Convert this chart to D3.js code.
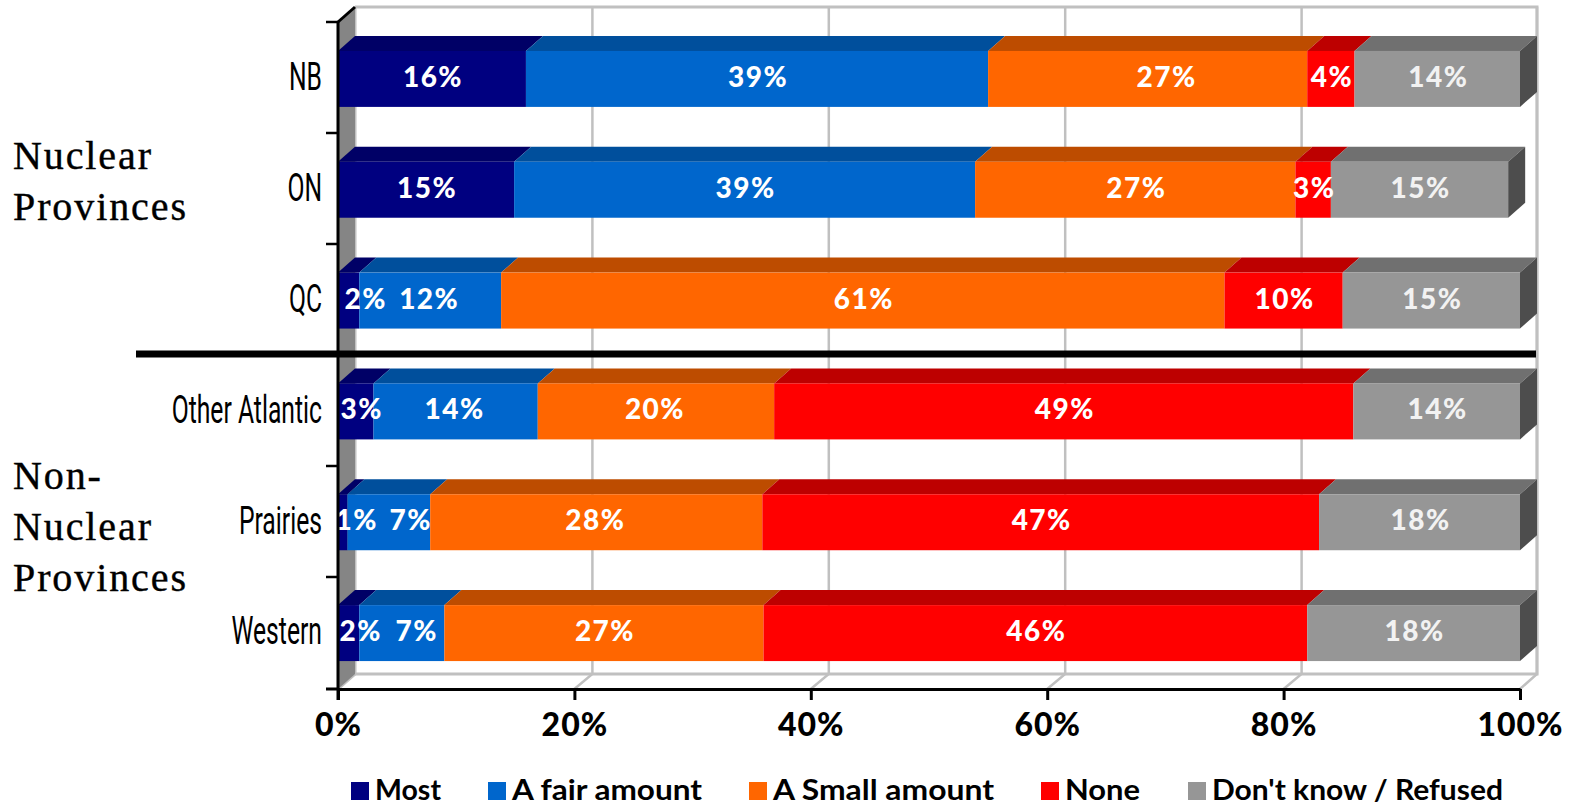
<!DOCTYPE html>
<html>
<head>
<meta charset="utf-8">
<script src="https://cdn.jsdelivr.net/npm/d3@7"></script>
<style>
  body { margin: 0; background: #fff; }
  svg { display: block; }
</style>
</head>
<body>
<div id="chart"></div>
<script>
var categories = ["NB", "ON", "QC", "Other Atlantic", "Prairies", "Western"];
var seriesNames = ["Most", "A fair amount", "A Small amount", "None", "Don't know / Refused"];
// printed labels are these rounded
var most = [15.9, 14.9, 1.8, 3, 0.8, 1.8];
var fairAmount = [39.1, 39, 12, 13.9, 7, 7.2];
var smallAmount = [27, 27.1, 61.2, 20, 28.1, 27];
var none = [4, 3, 10, 49, 47.1, 46];
var dontKnow = [14, 15, 15, 14.1, 17.5, 18];
var xTicks = [0, 20, 40, 60, 80, 100];

var seriesValues = [most, fairAmount, smallAmount, none, dontKnow];
var frontColors = ["#000080", "#0066cc", "#ff6600", "#ff0000", "#969696"];
var topColors = ["#000066", "#004f9c", "#bd4c00", "#bd0000", "#707070"];
var sideColor = "#4d4d4d";
var gridColor = "#c0c0c0";

var width = 1570, height = 803;
var dx = 17, dy = 15; // depth of the fake 3d

var x = d3.scaleLinear().domain([0, 100]).range([338, 1520]);
var y = d3.scaleBand().domain(categories).range([23.5, 688.5]).paddingInner(0.495).paddingOuter(0.2475);
var top0 = 22, bottom0 = 689;

// hand placed labels in the original, these sit off centre of their bars
var labelNudge = {"QC|0": 16, "Other Atlantic|0": 5, "Prairies|0": 13, "Western|0": 11,
                  "Prairies|1": 21, "Western|1": 14, "NB|2": 18, "QC|1": -2,
                  "Other Atlantic|1": -2, "Other Atlantic|2": -2, "Prairies|2": -2};

var svg = d3.select("#chart").append("svg").attr("width", width).attr("height", height);

function poly(g, pts, fill) {
  return g.append("polygon")
    .attr("points", pts.map(function(p) { return p.join(","); }).join(" "))
    .attr("fill", fill);
}

// back wall and floor
var wall = svg.append("g");
wall.append("path")
  .attr("d", "M" + (x(0) + dx) + "," + (top0 - dy) + "H" + (x(100) + dx) + "V" + (bottom0 - dy) + "H" + (x(0) + dx))
  .attr("fill", "none").attr("stroke", gridColor).attr("stroke-width", 3);

xTicks.forEach(function(t) {
  // inner gridlines sit a pixel further right in the original
  var gx = x(t) + dx + (t > 0 && t < 100 ? 1 : 0);
  wall.append("path")
    .attr("d", "M" + gx + "," + (top0 - dy) + "V" + (bottom0 - dy) + "L" + x(t) + "," + bottom0)
    .attr("fill", "none").attr("stroke", gridColor).attr("stroke-width", t == 0 ? 3 : 2.5);
});

poly(wall, [[x(0), top0], [x(0) + dx, top0 - dy], [x(0) + dx, bottom0 - dy], [x(0), bottom0]], "#858585");

// bars
var rows = svg.append("g");
categories.forEach(function(cat, r) {
  var yTop = y(cat), h = y.bandwidth(), cum = 0;
  var row = rows.append("g");
  seriesValues.forEach(function(vals, s) {
    // Prairies adds up to a bit over 100, the plot stops at 100
    var end = Math.min(cum + vals[r], 100);
    var x0 = x(cum), x1 = x(end);
    poly(row, [[x0, yTop], [x0 + dx, yTop - dy], [x1 + dx, yTop - dy], [x1, yTop]], topColors[s]);
    row.append("rect")
      .attr("x", x0).attr("y", yTop)
      .attr("width", x1 - x0).attr("height", h)
      .attr("fill", frontColors[s]);
    cum = end;
  });
  var xEnd = x(cum);
  poly(row, [[xEnd, yTop], [xEnd + dx, yTop - dy], [xEnd + dx, yTop + h - dy], [xEnd, yTop + h]], sideColor);

  // value labels go on top of all segments in the row
  cum = 0;
  seriesValues.forEach(function(vals, s) {
    var end = Math.min(cum + vals[r], 100);
    var nudge = labelNudge[cat + "|" + s] || 0;
    row.append("text")
      .attr("x", x((cum + end) / 2) + 1 + nudge)
      .attr("y", yTop + h / 2 + 8)
      .attr("text-anchor", "middle")
      .attr("font-family", "Lato")
      .attr("font-weight", 900)
      .attr("font-size", 28)
      .attr("letter-spacing", 1.5)
      .attr("fill", s == 4 ? "#f2f2f2" : "#fff")
      .text(Math.round(vals[r]) + "%");
    cum = end;
  });
});

// axes
var xAxis = svg.append("g")
  .attr("transform", "translate(0," + bottom0 + ")")
  .call(d3.axisBottom(x).tickValues(xTicks).tickSize(11).tickSizeOuter(0).tickFormat(function(d) { return d + "%"; }));
xAxis.select(".domain").attr("stroke", "#000").attr("stroke-width", 3);
xAxis.selectAll(".tick line").attr("stroke", "#000").attr("stroke-width", 3);
xAxis.selectAll(".tick text")
  .attr("y", 47).attr("dy", 0)
  .attr("fill", "#000")
  .attr("font-family", "Lato").attr("font-weight", 900).attr("font-size", 32)
  .attr("letter-spacing", 1);

var squeeze = 0.65;
var yAxis = svg.append("g")
  .attr("transform", "translate(" + x(0) + ",0)")
  .call(d3.axisLeft(y).tickSize(0).tickSizeOuter(0));
yAxis.select(".domain").remove();
yAxis.selectAll(".tick text")
  .attr("x", -16 / squeeze).attr("dy", "0.3em")
  .attr("transform", "scale(" + squeeze + ",1)")
  .attr("fill", "#000")
  .attr("font-family", "Roboto").attr("font-size", 38);

svg.append("line")
  .attr("x1", x(0)).attr("x2", x(0)).attr("y1", top0).attr("y2", bottom0 + 11)
  .attr("stroke", "#000").attr("stroke-width", 3);
svg.append("line")
  .attr("x1", x(0)).attr("y1", top0).attr("x2", x(0) + dx).attr("y2", top0 - dy)
  .attr("stroke", "#000").attr("stroke-width", 3);
svg.append("line")
  .attr("x1", x(0) - 12).attr("x2", x(0)).attr("y1", bottom0).attr("y2", bottom0)
  .attr("stroke", "#000").attr("stroke-width", 3);
d3.range(categories.length).forEach(function(i) {
  svg.append("line")
    .attr("x1", x(0) - 12).attr("x2", x(0))
    .attr("y1", top0 + i * 111).attr("y2", top0 + i * 111)
    .attr("stroke", "#000").attr("stroke-width", 2.5);
});

// divider between the two groups
svg.append("rect")
  .attr("x", 136).attr("y", 350.5).attr("width", 1400).attr("height", 7)
  .attr("fill", "#000");

// group titles
var groups = [
  {lines: ["Nuclear", "Provinces"], y: 169},
  {lines: ["Non-", "Nuclear", "Provinces"], y: 489}
];
groups.forEach(function(g) {
  g.lines.forEach(function(t, i) {
    svg.append("text")
      .attr("x", 13).attr("y", g.y + i * 51)
      .attr("font-family", "Liberation Serif")
      .attr("font-size", 40)
      .attr("letter-spacing", 1.9)
      .attr("stroke", "#000").attr("stroke-width", 0.4)
      .attr("fill", "#000")
      .text(t);
  });
});

// legend
var legendX = [351, 488, 749, 1041, 1188];
var legendW = [66, 190, 221, 75, 291];
var legend = svg.append("g").selectAll("g").data(seriesNames).enter().append("g")
  .attr("transform", function(d, i) { return "translate(" + legendX[i] + ",782)"; });
legend.append("rect").attr("width", 18).attr("height", 18)
  .attr("fill", function(d, i) { return frontColors[i]; });
legend.append("text")
  .attr("x", 24).attr("y", 18)
  .attr("font-family", "Lato").attr("font-weight", 700).attr("font-size", 29)
  .attr("textLength", function(d, i) { return legendW[i]; })
  .attr("lengthAdjust", "spacingAndGlyphs")
  .attr("fill", "#000")
  .text(function(d) { return d; });
</script>
</body>
</html>
